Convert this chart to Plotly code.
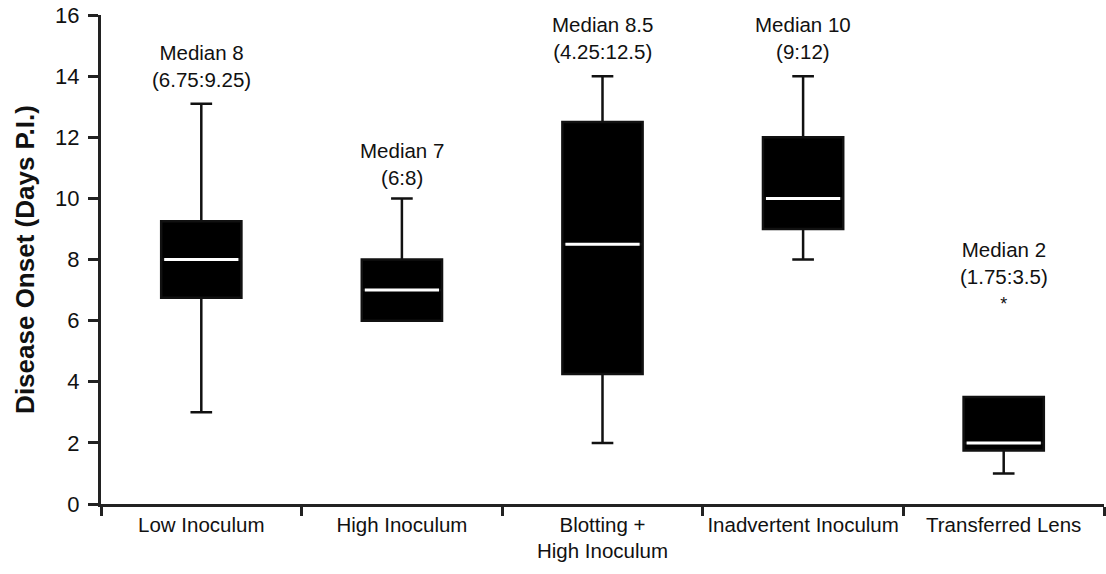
import plotly.graph_objects as go

categories = ["Low Inoculum", "High Inoculum", "Blotting + High Inoculum",
              "Inadvertent Inoculum", "Transferred Lens"]
tick_labels = ["Low Inoculum", "High Inoculum", "Blotting +<br>High Inoculum",
               "Inadvertent Inoculum", "Transferred Lens"]
lower_whisker = [3, 6, 2, 8, 1]
q1 = [6.75, 6, 4.25, 9, 1.75]
median = [8, 7, 8.5, 10, 2]
q3 = [9.25, 8, 12.5, 12, 3.5]
upper_whisker = [13.1, 10, 14, 14, 3.5]
label_median = ["8", "7", "8.5", "10", "2"]
label_range = ["6.75:9.25", "6:8", "4.25:12.5", "9:12", "1.75:3.5"]
label_note = ["", "", "", "", "*"]

FONT = "Arial, 'Liberation Sans', sans-serif"

fig = go.Figure()
fig.add_trace(go.Box(
    x=categories, q1=q1, median=median, q3=q3,
    lowerfence=lower_whisker, upperfence=upper_whisker,
    fillcolor="black", line=dict(color="#111111", width=2.5),
    width=0.4, whiskerwidth=0.27, boxpoints=False, hoverinfo="skip",
    showlegend=False,
))
fig.add_trace(go.Box(
    x=categories, q1=median, median=median, q3=median,
    lowerfence=median, upperfence=median,
    fillcolor="white", line=dict(color="white", width=3),
    width=0.37, whiskerwidth=0, boxpoints=False, hoverinfo="skip",
    showlegend=False,
))

label_y = [13.45, 10.25, 14.35, 14.35, 6.15]
for i, cat in enumerate(categories):
    txt = f"Median {label_median[i]}<br>({label_range[i]})"
    if label_note[i]:
        txt += f"<br><span style='font-size:18px'>{label_note[i]}</span>"
    fig.add_annotation(x=cat, y=label_y[i], text=txt, showarrow=False,
                       yanchor="bottom", xanchor="center",
                       font=dict(family=FONT, size=20.5, color="#111111"))

fig.update_layout(
    width=1106, height=574,
    margin=dict(l=101, r=2, t=15, b=70, autoexpand=False),
    paper_bgcolor="white", plot_bgcolor="white",
    font=dict(family=FONT, color="#111111"),
)
fig.update_xaxes(
    type="category", tickmode="array", tickvals=categories, ticktext=tick_labels,
    tickson="boundaries", ticks="outside", ticklen=9, tickwidth=2.5, tickcolor="#222222",
    showline=True, linecolor="#222222", linewidth=3, showgrid=False, automargin=False,
    tickangle=0,
    tickfont=dict(family=FONT, size=20.5, color="#111111"), range=[-0.5, 4.5],
)
fig.update_yaxes(
    range=[0, 16], tickvals=[0, 2, 4, 6, 8, 10, 12, 14, 16],
    ticks="outside", ticklen=10, tickwidth=2.5, tickcolor="#222222",
    showline=True, linecolor="#222222", linewidth=3, showgrid=False, zeroline=False,
    automargin=False, ticklabelstandoff=4,
    tickfont=dict(family=FONT, size=22, color="#111111"),
    title=dict(text="<b>Disease Onset (Days P.I.)</b>", standoff=14,
               font=dict(family=FONT, size=26, color="#111111")),
)

fig.write_html("out.html", config={"displayModeBar": False},
               post_script="document.body.style.margin='0';document.body.style.overflow='hidden';")
